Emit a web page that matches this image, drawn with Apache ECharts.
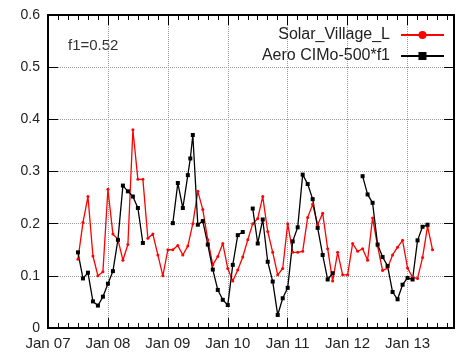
<!DOCTYPE html>
<html>
<head>
<meta charset="utf-8">
<script src="https://cdn.jsdelivr.net/npm/echarts@6/dist/echarts.min.js"></script>
<style>
  html, body { margin: 0; padding: 0; background: #fff; }
  #chart { width: 457px; height: 359px; }
</style>
</head>
<body>
<div id="chart"></div>
<script>
// Monthly aerosol optical depth, Solar Village site vs. scaled model values
const redDates = [
  '2007-07','2007-08','2007-09','2007-10','2007-11','2007-12',
  '2008-01','2008-02','2008-03','2008-04','2008-05','2008-06','2008-07','2008-08','2008-09','2008-10','2008-11','2008-12',
  '2009-01','2009-02','2009-03','2009-04','2009-05','2009-06','2009-07','2009-08','2009-09','2009-10','2009-11','2009-12',
  '2010-01','2010-02','2010-03','2010-04','2010-05','2010-06','2010-07','2010-08','2010-09','2010-10','2010-11','2010-12',
  '2011-01','2011-02','2011-03','2011-04','2011-05','2011-06','2011-07','2011-08','2011-09','2011-10','2011-11','2011-12',
  '2012-01','2012-02','2012-03','2012-04','2012-05','2012-06','2012-07','2012-08','2012-09','2012-10','2012-11','2012-12',
  '2013-01','2013-02','2013-03','2013-04','2013-05','2013-06'
];
const solarVillage = [
  0.132, 0.202, 0.252, 0.138, 0.100, 0.108,
  0.266, 0.180, 0.170, 0.130, 0.160, 0.380, 0.285, 0.285, 0.172, 0.180, 0.140, 0.100,
  0.150, 0.150, 0.158, 0.140, 0.157, 0.200, 0.262, 0.227, 0.169, 0.121, 0.137, 0.162,
  0.114, 0.090, 0.111, 0.136, 0.169, 0.200, 0.210, 0.252, 0.185, 0.145, 0.102, 0.114,
  0.200, 0.145, 0.145, 0.147, 0.212, 0.237, 0.198, 0.220, 0.152, 0.090, 0.145, 0.102,
  0.102, 0.162, 0.147, 0.152, 0.130, 0.211, 0.157, 0.110, 0.115, 0.140, 0.155, 0.168,
  0.115, 0.097, 0.095, 0.135, 0.195, 0.150
];

// null marks a month without model output (the line breaks there)
const blackDates = [
  '2007-07','2007-08','2007-09','2007-10','2007-11','2007-12',
  '2008-01','2008-02','2008-03','2008-04','2008-05','2008-06','2008-07','2008-08','2008-09','2008-10','2008-11','2008-12',
  '2009-01','2009-02','2009-03','2009-04','2009-05','2009-05-16','2009-06','2009-07','2009-08','2009-09','2009-10','2009-11','2009-12',
  '2010-01','2010-02','2010-03','2010-04','2010-05','2010-06','2010-07','2010-08','2010-09','2010-10','2010-11','2010-12',
  '2011-01','2011-02','2011-03','2011-04','2011-05','2011-06','2011-07','2011-08','2011-09','2011-10','2011-11','2011-12',
  '2012-01','2012-02','2012-03','2012-04','2012-05','2012-06','2012-07','2012-08','2012-09','2012-10','2012-11','2012-12',
  '2013-01','2013-02','2013-03','2013-04','2013-05'
];
const aeroCimo = [
  0.145, 0.095, 0.106, 0.051, 0.043, 0.060,
  0.085, 0.109, 0.169, 0.273, 0.262, 0.252, 0.230, 0.163, null, null, null, null,
  null, 0.201, 0.278, 0.230, 0.293, 0.325, 0.370, 0.198, 0.205, 0.160, 0.112, 0.073, 0.054,
  0.044, 0.121, 0.178, 0.184, null, 0.229, 0.162, 0.208, 0.127, 0.089, 0.025, 0.057,
  0.077, 0.166, 0.193, 0.294, 0.276, 0.247, 0.192, 0.140, 0.093, 0.105, null, null,
  null, null, null, 0.291, 0.256, 0.240, 0.160, 0.136, 0.119, 0.069, 0.055, 0.083,
  0.096, 0.093, 0.168, 0.194, 0.198
];

const seriesNames = ['Solar_Village_L', 'Aero CIMo-500*f1'];
const xTickLabels = ['Jan 07', 'Jan 08', 'Jan 09', 'Jan 10', 'Jan 11', 'Jan 12', 'Jan 13'];
const yTickLabels = ['0', '0.1', '0.2', '0.3', '0.4', '0.5', '0.6'];
const noteText = 'f1=0.52';

// x axis runs in months counted from Jan 2007
const X_MAX = 81.3;
const Y_MAX = 0.6;
function monthIndex(s) {
  const p = s.split('-').map(Number);
  const day = p.length > 2 ? p[2] : 1;
  return (p[0] - 2007) * 12 + (p[1] - 1) + (day - 1) / 30;
}
function pairs(dates, values) {
  return dates.map((d, i) => [monthIndex(d), values[i]]);
}
// split a gappy record into continuous runs
function runs(dates, values) {
  const out = [];
  let cur = [];
  values.forEach((v, i) => {
    if (v === null) { if (cur.length) out.push(cur); cur = []; }
    else cur.push([monthIndex(dates[i]), v]);
  });
  if (cur.length) out.push(cur);
  return out;
}

const FONT = 'Liberation Sans';
const TXT = '#222';
const GRID = { left: 48, top: 15, right: 2, bottom: 31 };
const W = 457, H = 359;
const plotW = W - GRID.left - GRID.right;
const plotH = H - GRID.top - GRID.bottom;
const dotted = { color: '#9a9a9a', type: 'dotted', width: 1 };
const solid = { color: '#000', type: 'solid', width: 1 };

// grid lines and gnuplot-style inward ticks on all four sides, in data units
const xMajor = xTickLabels.map((_, i) => i * 12).filter(v => v > 0);
const xMinor = [];
for (let m = 2; m < X_MAX; m += 2) if (m % 12 !== 0) xMinor.push(m);
const yMajor = yTickLabels.map((_, i) => i / 10).filter(v => v > 0 && v < Y_MAX);
const dy = px => px / plotH * Y_MAX;
const dx = px => px / plotW * X_MAX;
const seg = (a, b, style) => [{ coord: a, lineStyle: style }, { coord: b }];
const frameLines = [];
xMajor.forEach(v => {
  frameLines.push(seg([v, 0], [v, Y_MAX], dotted));
  frameLines.push(seg([v, 0], [v, dy(10)], solid));
  frameLines.push(seg([v, Y_MAX - dy(10)], [v, Y_MAX], solid));
});
xMinor.forEach(v => {
  frameLines.push(seg([v, 0], [v, dy(5)], solid));
  frameLines.push(seg([v, Y_MAX - dy(5)], [v, Y_MAX], solid));
});
yMajor.forEach(v => {
  frameLines.push(seg([0, v], [X_MAX, v], dotted));
  frameLines.push(seg([0, v], [dx(10), v], solid));
  frameLines.push(seg([X_MAX - dx(10), v], [X_MAX, v], solid));
});

const modelSeries = runs(blackDates, aeroCimo).map(run => ({
  name: seriesNames[1], type: 'line', data: run,
  symbol: 'rect', symbolSize: 4, showAllSymbol: true,
  lineStyle: { color: '#000', width: 1.3 },
  itemStyle: { color: '#000' }
}));

const chart = echarts.init(document.getElementById('chart'));
chart.setOption({
  animation: false,
  backgroundColor: '#fff',
  // the frame round the plot comes from the grid border
  grid: Object.assign({ show: true, borderColor: '#000', borderWidth: 2, backgroundColor: 'transparent' }, GRID),
  xAxis: {
    type: 'value', min: 0, max: X_MAX, interval: 12,
    axisLine: { show: false },
    axisTick: { show: false },
    axisLabel: {
      fontFamily: FONT, fontSize: 15, color: TXT,
      formatter: v => (v % 12 === 0 && xTickLabels[v / 12] !== undefined) ? xTickLabels[v / 12] : ''
    },
    splitLine: { show: false }
  },
  yAxis: {
    type: 'value', min: 0, max: Y_MAX, interval: 0.1,
    axisLine: { show: false },
    axisTick: { show: false },
    axisLabel: {
      fontFamily: FONT, fontSize: 14, color: TXT,
      formatter: v => yTickLabels[Math.round(v * 10)]
    },
    splitLine: { show: false }
  },
  legend: {
    orient: 'vertical', align: 'right', right: 12, top: 27, padding: 0,
    itemWidth: 43, itemHeight: 10, itemGap: 5,
    textStyle: { fontFamily: FONT, fontSize: 16, color: TXT, padding: [0, 6, 0, 0] },
    data: seriesNames
  },
  graphic: [{
    type: 'text', left: 68, top: 38,
    style: { text: noteText, fontFamily: FONT, fontSize: 15, fill: '#333' }
  }],
  series: [
    {
      name: seriesNames[0], type: 'line',
      data: pairs(redDates, solarVillage),
      symbol: 'circle', symbolSize: 3, showAllSymbol: true,
      lineStyle: { color: '#ff0000', width: 1.3 },
      itemStyle: { color: '#ff0000' },
      markLine: {
        silent: true, animation: false, z: 1,
        symbol: ['none', 'none'],
        label: { show: false },
        emphasis: { disabled: true },
        data: frameLines
      }
    }
  ].concat(modelSeries)
});
</script>
</body>
</html>
